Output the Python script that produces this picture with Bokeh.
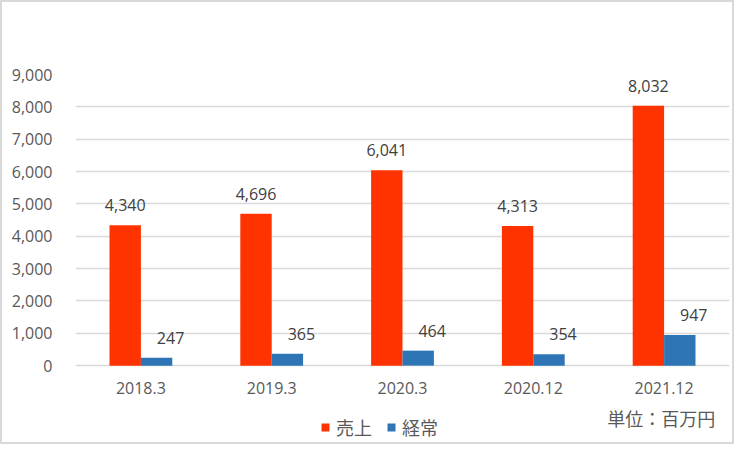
from bokeh.plotting import figure
from bokeh.models import (ColumnDataSource, FactorRange, Range1d, NumeralTickFormatter,
                          Legend, LegendItem, Label, SingleIntervalTicker)
from bokeh.transform import dodge
from bokeh.core.properties import value
from bokeh.embed import file_html
from bokeh.resources import INLINE

categories = ["2018.3", "2019.3", "2020.3", "2020.12", "2021.12"]
sales = [4340, 4696, 6041, 4313, 8032]
ordinary = [247, 365, 464, 354, 947]
series_names = ["売上", "経常"]
unit_text = "単位：百万円"
y_max = 9000
y_step = 1000

RED = "#FF3300"
BLUE = "#2E75B6"
GRID = "#D9D9D9"
TXT = "#595959"
LBL = "#404040"
NUMFONT = "Open Sans"
JPFONT = "Noto Sans CJK JP"

src = ColumnDataSource(dict(
    cat=categories,
    sales=sales,
    ordinary=ordinary,
    zero=[0] * len(categories),
    sales_lbl=[f"{v:,}" for v in sales],
    ord_lbl=[f"{v:,}" for v in ordinary],
))

# frame extends below zero to host category labels, legend and unit note
p = figure(x_range=FactorRange(factors=categories, range_padding=0),
           y_range=Range1d(-2500, y_max),
           x_axis_location=None,
           width=734, height=444, output_backend="svg", toolbar_location=None,
           min_border_left=73, min_border_right=7, min_border_top=72, min_border_bottom=0)
p.styles = {"border": "2px solid #D9D9D9", "box-sizing": "border-box"}
p.outline_line_color = None
p.background_fill_color = "white"
p.border_fill_color = "white"

r1 = p.vbar(x=dodge("cat", -0.12, range=p.x_range), top="sales", width=0.24,
            source=src, fill_color=RED, line_color=None)
r2 = p.vbar(x=dodge("cat", 0.12, range=p.x_range), top="ordinary", width=0.24,
            source=src, fill_color=BLUE, line_color=None)

p.text(x=dodge("cat", -0.12, range=p.x_range), y="sales", text="sales_lbl", source=src,
       text_align="center", text_baseline="middle", y_offset=-20,
       text_font=value(NUMFONT), text_font_size="16px", text_color=LBL)
p.text(x=dodge("cat", 0.12, range=p.x_range), y="ordinary", text="ord_lbl", source=src,
       text_align="center", text_baseline="middle", y_offset=-20, x_offset=14,
       text_font=value(NUMFONT), text_font_size="16px", text_color=LBL)

# category labels (x axis)
p.text(x="cat", y="zero", text="cat", source=src,
       text_align="center", text_baseline="middle", y_offset=22,
       text_font=value(NUMFONT), text_font_size="16px", text_color=TXT)

p.yaxis.ticker = SingleIntervalTicker(interval=y_step)
p.yaxis.bounds = (0, y_max)
p.yaxis.formatter = NumeralTickFormatter(format="0,0")
p.yaxis.axis_line_color = None
p.yaxis.major_tick_line_color = None
p.yaxis.minor_tick_line_color = None
p.yaxis.major_label_text_color = TXT
p.yaxis.major_label_text_font = NUMFONT
p.yaxis.major_label_text_font_size = "16px"
p.yaxis.major_label_standoff = 17

p.xgrid.grid_line_color = None
p.ygrid.grid_line_color = GRID
p.ygrid.grid_line_width = 1.3
p.ygrid.ticker = SingleIntervalTicker(interval=y_step)
p.ygrid.bounds = (0, y_max)

legend = Legend(items=[LegendItem(label=series_names[0], renderers=[r1]),
                       LegendItem(label=series_names[1], renderers=[r2])],
                orientation="horizontal", location=(245, 6),
                glyph_width=10, glyph_height=10, label_standoff=6, spacing=14,
                padding=0, margin=0, border_line_color=None, background_fill_alpha=0,
                label_text_font=JPFONT, label_text_font_size="18px", label_text_color=TXT)
p.add_layout(legend, "center")

p.add_layout(Label(x=4.892, y=-1625, text=unit_text, text_align="right",
                   text_baseline="middle", text_font=JPFONT, text_font_size="18px",
                   text_color=TXT))

open("out.html", "w").write(file_html(p, INLINE))
